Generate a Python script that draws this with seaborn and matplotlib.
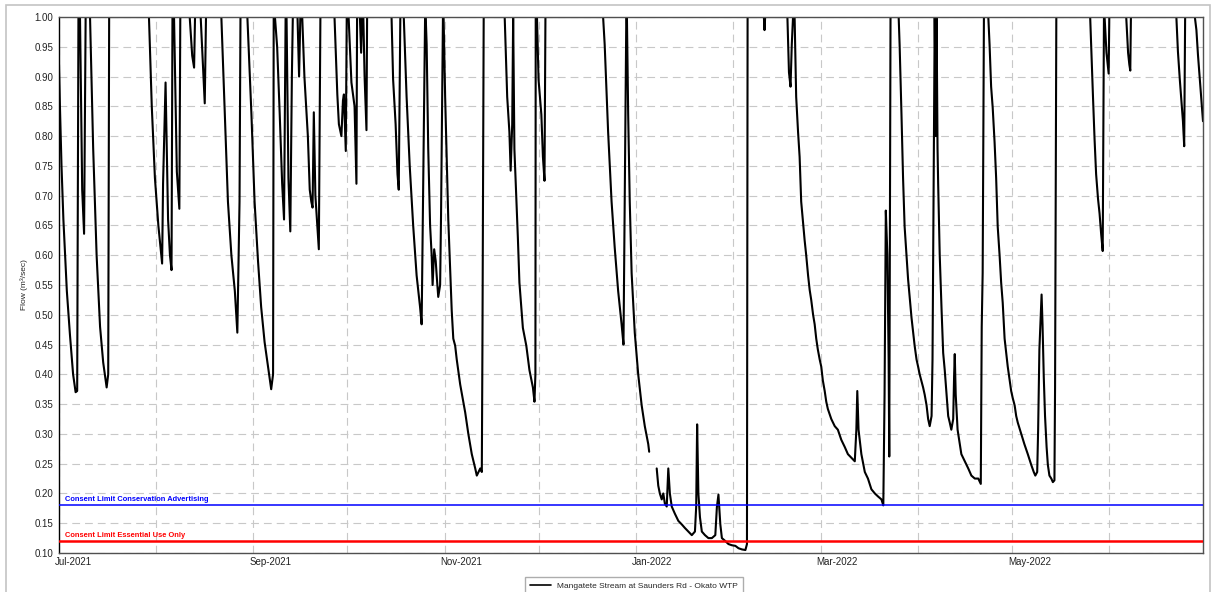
import matplotlib
matplotlib.use("Agg")
import matplotlib.pyplot as plt
import matplotlib.dates as mdates
from matplotlib.lines import Line2D
from matplotlib.patches import Rectangle
from matplotlib.transforms import ScaledTranslation
import seaborn as sns
import pandas as pd

# Flow readings, days counted from 2021-07-01 (1.0 = off the top of the scale)
days = [
    0.0, 0.3, 0.8, 1.4, 2.5, 3.5, 4.5, 5.3, 5.8, 6.2, 6.7, 7.4, 8.0, 8.5,
    9.9, 10.9, 12.0, 13.1, 14.1, 15.2, 15.7, 16.0, 28.7, 29.6, 30.6, 31.7,
    32.9, 33.2, 34.0, 34.8, 35.4, 35.9, 36.2, 36.7, 37.6, 38.4, 38.7, 41.7,
    42.5, 43.1, 43.4, 45.2, 46.1, 46.5, 46.9, 51.8, 52.9, 53.9, 55.0, 56.1,
    56.9, 57.6, 57.9, 60.1, 61.4, 62.4, 63.5, 64.5, 65.6, 66.7, 67.7, 68.3,
    68.5, 68.9, 69.6, 70.4, 71.2, 71.8, 72.3, 72.6, 73.2, 73.8, 74.3, 74.6,
    76.1, 76.6, 77.0, 77.6, 78.3, 79.4, 80.0, 80.5, 80.9, 81.3, 81.8, 82.4,
    82.9, 83.4, 87.9, 88.8, 89.3, 90.1, 90.6, 90.9, 91.5, 91.8, 92.4, 93.3,
    94.3, 94.9, 95.1, 96.0, 96.4, 96.7, 97.1, 97.5, 98.1, 98.3, 106.1, 106.6,
    107.4, 108.0, 108.4, 108.9, 110.0, 110.9, 111.9, 113.0, 114.1, 115.2,
    115.7, 116.8, 117.0, 117.3, 117.8, 118.4, 118.9, 119.2, 119.7, 120.2,
    120.5, 121.0, 121.6, 121.9, 122.5, 122.7, 123.2, 124.2, 125.3, 125.8,
    126.4, 126.9, 128.0, 129.6, 130.6, 131.7, 132.8, 133.3, 134.4, 134.9,
    135.1, 135.5, 142.2, 143.0, 143.7, 144.1, 144.6, 144.9, 145.3, 146.4,
    146.9, 147.5, 148.0, 149.1, 150.1, 151.2, 151.7, 152.0, 152.1, 152.5,
    153.0, 153.9, 154.4, 154.9, 155.2, 173.6, 174.1, 175.2, 176.3, 177.3,
    178.4, 179.5, 180.1, 181.0, 181.2, 181.6, 182.1, 182.7, 183.7, 184.8,
    185.9, 186.9, 188.0, 188.3,
    190.7, 191.2, 191.7, 192.3, 192.8, 193.3, 193.9, 194.4, 194.9, 195.5,
    196.5, 197.6, 198.7, 199.7, 200.8, 201.9, 202.9, 203.3, 203.6, 204.0,
    204.5, 205.1, 206.1, 207.2, 208.3, 209.4, 209.9, 210.4, 211.0, 211.5,
    212.6, 213.6, 214.7, 215.8, 216.8, 217.9, 219.0, 219.5, 219.7, 224.9,
    225.1, 225.3, 232.4, 232.9, 233.4, 233.8, 234.2, 234.7, 235.2, 235.8,
    236.3, 236.8, 237.3, 237.9, 238.4, 239.0, 239.5, 240.0, 240.6, 241.1,
    241.6, 242.1, 242.7, 243.2, 243.7, 244.3, 244.8, 245.3, 246.4, 247.5,
    248.5, 249.6, 250.7, 251.7, 252.8, 253.9, 254.4, 254.7, 255.1, 256.0,
    257.1, 258.1, 259.2, 260.3, 261.3, 262.4, 263.0, 263.4, 263.8, 264.3,
    264.7, 264.9, 265.3, 267.9, 268.2, 268.8, 269.3, 269.8, 270.4, 270.9,
    271.4, 272.0, 272.5, 273.0, 273.6, 274.1, 274.6, 275.1, 275.7, 276.2,
    276.8, 277.3, 277.8, 278.4, 278.7, 279.0, 279.4, 279.8, 280.0, 280.3,
    280.5, 281.0, 281.6, 282.1, 282.6, 283.2, 283.7, 284.2, 284.7, 285.3,
    285.6, 285.8, 286.1, 286.7, 287.4, 287.9, 289.0, 290.1, 291.1, 292.2,
    293.3, 294.1, 294.4, 294.7, 295.1, 296.5, 296.9, 297.4, 297.9, 298.5,
    299.0, 299.5, 300.1, 300.6, 301.1, 301.7, 302.2, 302.7, 303.3, 303.8,
    304.3, 304.9, 305.4, 305.9, 307.0, 308.0, 309.1, 310.2, 311.0, 311.5,
    312.1, 312.4, 312.6, 312.8, 313.2, 313.5, 313.8, 314.2, 314.6, 315.1,
    315.5, 316.0, 316.6, 317.1, 317.6, 317.8, 318.2, 329.0, 329.3, 329.9,
    330.4, 330.9, 331.5, 332.0, 332.5, 333.0, 333.4, 333.6, 334.2, 334.9,
    335.1, 340.5, 341.1, 341.5, 341.8, 342.0, 356.5, 357.0, 357.6, 358.1,
    358.6, 359.0, 359.3, 362.4, 362.9, 363.4, 364.0, 364.5, 365.0,
]
flow = [
    0.92, 0.85, 0.75, 0.66, 0.54, 0.466, 0.40, 0.37, 0.372, 1.0, 1.0, 0.71, 0.636, 1.0,
    1.0, 0.78, 0.60, 0.48, 0.42, 0.378, 0.40, 1.0, 1.0, 0.85, 0.73, 0.65,
    0.586, 0.72, 0.89, 0.66, 0.60, 0.575, 1.0, 1.0, 0.74, 0.678, 1.0, 1.0,
    0.935, 0.915, 1.0, 1.0, 0.90, 0.855, 1.0, 1.0, 0.836, 0.69, 0.60, 0.54,
    0.47, 0.69, 1.0, 1.0, 0.836, 0.69, 0.59, 0.513, 0.454, 0.413, 0.375, 0.40,
    1.0, 1.0, 0.95, 0.84, 0.72, 0.66, 1.0, 1.0, 0.73, 0.64, 0.90, 1.0,
    1.0, 0.90, 1.0, 1.0, 0.90, 0.80, 0.71, 0.69, 0.68, 0.84, 0.70, 0.65,
    0.61, 1.0, 1.0, 0.87, 0.82, 0.80, 0.86, 0.87, 0.775, 1.0, 1.0, 0.89,
    0.85, 0.72, 1.0, 1.0, 0.94, 1.0, 1.0, 0.90, 0.81, 1.0, 1.0, 0.895,
    0.82, 0.736, 0.71, 1.0, 1.0, 0.866, 0.75, 0.65, 0.566, 0.513,
    0.484, 1.0, 1.0, 0.954, 0.78, 0.65, 0.60, 0.55, 0.61, 0.59,
    0.566, 0.53, 0.55, 0.67, 1.0, 1.0, 0.866, 0.66, 0.507, 0.46,
    0.448, 0.425, 0.383, 0.336, 0.30, 0.266, 0.242, 0.23, 0.242, 0.236,
    0.448, 1.0, 1.0, 0.866, 0.807, 0.742, 0.82, 1.0, 0.778, 0.63,
    0.554, 0.513, 0.478, 0.448, 0.407, 0.378, 0.354, 0.40, 1.0, 1.0,
    0.895, 0.836, 0.765, 0.725, 1.0, 1.0, 0.954, 0.807, 0.69, 0.613,
    0.54, 0.484, 0.45, 1.0, 1.0, 0.836, 0.69, 0.57, 0.47, 0.40,
    0.348, 0.313, 0.283, 0.27,
    0.242, 0.213, 0.20, 0.19, 0.20, 0.183, 0.178, 0.242, 0.20, 0.178,
    0.166, 0.154, 0.148, 0.142, 0.136, 0.13, 0.136, 0.178, 0.316, 0.20,
    0.16, 0.136, 0.13, 0.125, 0.125, 0.13, 0.177, 0.198, 0.148, 0.125,
    0.12, 0.115, 0.113, 0.112, 0.108, 0.106, 0.105, 0.115, 1.0, 1.0,
    0.978, 1.0, 1.0, 0.907, 0.883, 0.954, 1.0, 1.0, 0.866, 0.807,
    0.765, 0.69, 0.66, 0.625, 0.60, 0.566, 0.542, 0.525, 0.50, 0.484,
    0.46, 0.442, 0.425, 0.413, 0.39, 0.372, 0.354, 0.342, 0.325, 0.313,
    0.307, 0.29, 0.278, 0.266, 0.26, 0.254, 0.307, 0.372, 0.307, 0.266,
    0.236, 0.225, 0.207, 0.20, 0.195, 0.19, 0.18, 0.366, 0.675, 0.60,
    0.425, 0.262, 1.0, 1.0, 0.954, 0.836, 0.73, 0.648, 0.60, 0.56,
    0.53, 0.495, 0.472, 0.448, 0.425, 0.413, 0.40, 0.39, 0.378, 0.366,
    0.348, 0.325, 0.313, 0.33, 0.425, 0.66, 1.0, 0.80, 1.0, 0.78,
    0.72, 0.60, 0.507, 0.436, 0.407, 0.366, 0.33, 0.319, 0.307, 0.325,
    0.40, 0.434, 0.366, 0.307, 0.283, 0.266, 0.254, 0.242, 0.23, 0.225,
    0.225, 0.216, 0.48, 0.57, 1.0, 1.0, 0.954, 0.883, 0.848, 0.79,
    0.73, 0.648, 0.60, 0.554, 0.52, 0.46, 0.436, 0.413, 0.39, 0.372,
    0.36, 0.348, 0.33, 0.319, 0.30, 0.283, 0.266, 0.248, 0.236, 0.23,
    0.236, 0.307, 0.378, 0.442, 0.495, 0.534, 0.484, 0.395, 0.33, 0.278,
    0.248, 0.23, 0.225, 0.219, 0.222, 0.378, 1.0, 1.0, 0.954, 0.866,
    0.795, 0.736, 0.695, 0.67, 0.636, 0.607, 1.0, 1.0, 0.94, 0.905,
    1.0, 1.0, 0.94, 0.92, 0.91, 1.0, 1.0, 0.942, 0.895, 0.86,
    0.825, 0.783, 1.0, 1.0, 0.978, 0.936, 0.895, 0.86, 0.825,
]
gap_after_day = 188.3  # missing record in early January 2022

series_name = "Mangatete Stream at Saunders Rd - Okato WTP"
limit_names = ["Consent Limit Conservation Advertising", "Consent Limit Essential Use Only"]
limit_values = [0.18, 0.12]
limit_colors = ["#0000ff", "#ff0000"]
y_ticks = [round(0.10 + 0.05 * i, 2) for i in range(19)]

start = pd.Timestamp("2021-07-01")
end = pd.Timestamp("2022-07-01")

df = pd.DataFrame({"days": days, "flow": flow})
df["time"] = start + pd.to_timedelta(df["days"], unit="D")
df["segment"] = (df["days"] > gap_after_day).astype(int)

sns.set_style("white")
plt.rcParams["font.family"] = ["Liberation Sans", "DejaVu Sans"]

fig = plt.figure(figsize=(12.13, 5.92), dpi=100)
ax = fig.add_axes([59 / 1213, 1 - 553 / 592, (1203 - 59) / 1213, (553 - 17) / 592])

sns.lineplot(data=df, x="time", y="flow", units="segment", estimator=None,
             sort=False, color="black", linewidth=1.5, ax=ax)

ax.axhline(limit_values[0], color=limit_colors[0], linewidth=1.1, zorder=3)
ax.axhline(limit_values[1], color=limit_colors[1], linewidth=1.8, zorder=3)
label_x = start + pd.Timedelta(days=2)
for name, val, col in zip(limit_names, limit_values, limit_colors):
    ax.text(label_x, val + 0.004, name, color=col, fontsize=5.4, fontweight="bold",
            va="bottom", ha="left", zorder=4)


def month_label(v, pos):
    d = mdates.num2date(v)
    if d.month % 2 == 1 and d < end.tz_localize(d.tzinfo):
        return d.strftime("%b-%Y")
    return ""


ax.set_xlim(start, end)
ax.set_ylim(0.10, 1.00)
ax.set_yticks(y_ticks)
ax.yaxis.set_major_formatter(plt.FormatStrFormatter("%.2f"))

ax.xaxis.set_major_locator(mdates.MonthLocator())
ax.xaxis.set_major_formatter(plt.FuncFormatter(month_label))

ax.grid(True, color="#c8c8c8", linewidth=0.8, linestyle=(0, (7, 4.5)))
ax.set_axisbelow(True)
ax.tick_params(axis="both", length=0, labelsize=7, colors="#222222")
ax.tick_params(axis="x", pad=3)
ax.tick_params(axis="y", pad=4)
for lab in ax.get_xticklabels():
    lab.set_horizontalalignment("left")
    lab.set_transform(lab.get_transform() + ScaledTranslation(-0.04, 0, fig.dpi_scale_trans))

ax.set_xlabel("")
ax.set_ylabel("Flow (m\u00b3/sec)", fontsize=6)
ax.yaxis.set_label_coords(-0.027, 0.5)

for side in ["top", "right", "bottom"]:
    ax.spines[side].set_color("#505050")
    ax.spines[side].set_linewidth(1.0)
ax.spines["left"].set_color("black")
ax.spines["left"].set_linewidth(1.0)

handle = Line2D([], [], color="black", linewidth=1.2)
fig.legend([handle], [series_name], loc="lower center", bbox_to_anchor=(634 / 1213, -0.012),
           fontsize=6, frameon=True, fancybox=False, edgecolor="#999999",
           handlelength=2.5, borderpad=0.6)

fig.patches.append(Rectangle((6 / 1213, -0.01), 1204 / 1213, 1 - 5 / 592 + 0.01,
                             transform=fig.transFigure, fill=False,
                             edgecolor="#c4c4c4", linewidth=1.2))

fig.savefig("out.png", dpi=100, facecolor="white")
